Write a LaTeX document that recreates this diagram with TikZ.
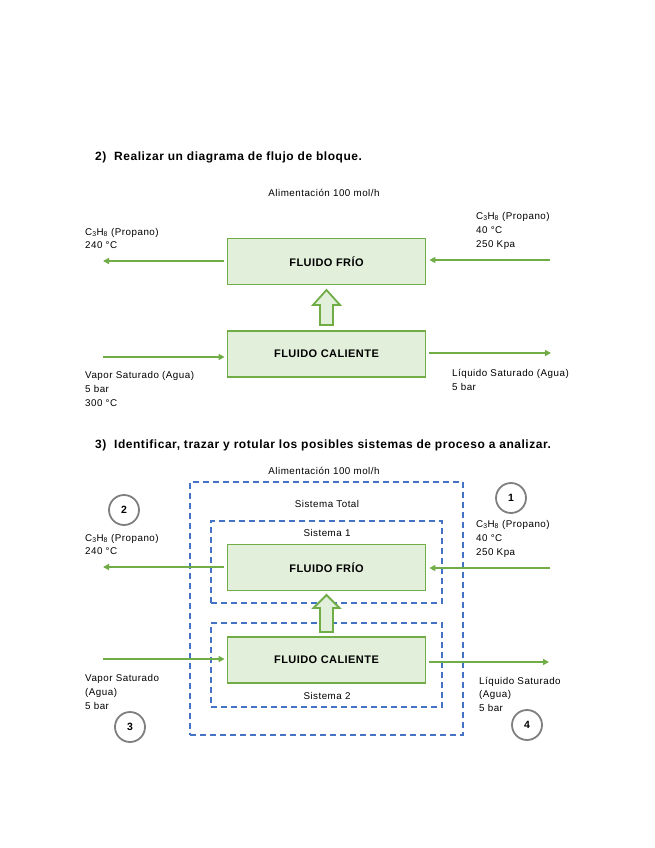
\documentclass[tikz,border=0pt]{standalone}
\usepackage{fontspec}
\setmainfont{Liberation Sans}
\usetikzlibrary{arrows.meta}
\definecolor{gline}{HTML}{70AD47}
\definecolor{gfill}{HTML}{E2EFDA}
\definecolor{bline}{HTML}{4472C4}
\definecolor{cgray}{HTML}{7F7F7F}
\begin{document}
\begin{tikzpicture}[x=1pt,y=-1pt,
  lbl/.style={anchor=base west,inner sep=0pt,font=\fontsize{9.8}{11}\selectfont\addfontfeature{LetterSpace=5}},
  lblc/.style={anchor=base,inner sep=0pt,font=\fontsize{9.8}{11}\selectfont\addfontfeature{LetterSpace=5}},
  head/.style={anchor=base west,inner sep=0pt,font=\fontsize{12}{13}\selectfont\bfseries\addfontfeature{LetterSpace=4.5}},
  block/.style={draw=gline,fill=gfill,line width=1.8pt,minimum width=198pt,minimum height=46pt,font=\fontsize{11}{12}\selectfont\bfseries\addfontfeature{LetterSpace=4},inner sep=0pt},
  flow/.style={draw=gline,line width=1.8pt,-{Triangle[length=6pt,width=6pt]}},
  sysbox/.style={draw=bline,line width=1.8pt,dash pattern=on 6pt off 4pt},
  bigarrow/.style={draw=gline,fill=gfill,line width=1.8pt,line join=miter},
  num/.style={circle,draw=cgray,line width=1.8pt,minimum size=30pt,inner sep=0pt,font=\fontsize{10.5}{12}\selectfont\bfseries}]
\useasboundingbox (0,0) rectangle (655,848);
\fill[white] (0,0) rectangle (655,848);
\newcommand{\cth}{C\textsubscript{3}H\textsubscript{8} (Propano)}

% ---------- Section 2 ----------
\node[head] (h2) at (95,160) {2)\ \ Realizar un diagrama de flujo de bloque.};
\node[lblc] (al2) at (324,196) {Alimentación 100 mol/h};
\node[block] (ff2) at (326.5,261.5) {FLUIDO FRÍO};
\node[block] (fc2) at (326.5,354) {FLUIDO CALIENTE};
\coordinate (ffL2) at (103,261);
\coordinate (ffR2) at (550,260);
\coordinate (fcL2) at (103,357);
\coordinate (fcR2) at (551,353);
\draw[flow] (ff2.west|-ffL2) ++(-3,0) -- (ffL2);
\draw[flow] (ffR2) -- ([xshift=3pt]ff2.east|-ffR2);
\draw[flow] (fcL2) -- ([xshift=-2pt]fc2.west|-fcL2);
\draw[flow] ([xshift=3pt]fc2.east|-fcR2) -- (fcR2);
\draw[bigarrow] (320,325) -- (320,305) -- (313,305) -- (326.5,290) -- (340,305) -- (333,305) -- (333,325) -- cycle;
\node[lbl] (l2a) at (85,235) {\cth};
\node[lbl] (l2b) at (85,248) {240 °C};
\node[lbl] (r2a) at (476,219) {\cth};
\node[lbl] (r2b) at (476,233) {40 °C};
\node[lbl] (r2c) at (476,247) {250 Kpa};
\node[lbl] (v2a) at (85,378) {Vapor Saturado (Agua)};
\node[lbl] (v2b) at (85,392) {5 bar};
\node[lbl] (v2c) at (85,406) {300 °C};
\node[lbl] (q2a) at (452,376) {Líquido Saturado (Agua)};
\node[lbl] (q2b) at (452,390) {5 bar};

% ---------- Section 3 ----------
\node[head] (h3) at (95,448) {3)\ \ Identificar, trazar y rotular los posibles sistemas de proceso a analizar.};
\node[lblc] (al3) at (324,474) {Alimentación 100 mol/h};
\node[sysbox,minimum width=273pt,minimum height=253pt,inner sep=0pt] (st) at (326.5,608.5) {};
\node[sysbox,minimum width=231pt,minimum height=82pt,inner sep=0pt] (s1) at (326.5,562) {};
\node[sysbox,minimum width=231pt,minimum height=84pt,inner sep=0pt] (s2) at (326.5,665) {};
\node[lblc] (stl) at (327,507) {Sistema Total};
\node[lblc] (s1l) at (327,536) {Sistema 1};
\node[lblc] (s2l) at (327,699) {Sistema 2};
\node[block] (ff3) at (326.5,567.5) {FLUIDO FRÍO};
\node[block] (fc3) at (326.5,660) {FLUIDO CALIENTE};
\coordinate (ffL3) at (103,567);
\coordinate (ffR3) at (550,568);
\coordinate (fcL3) at (103,659);
\coordinate (fcR3) at (549,662);
\draw[flow] (ff3.west|-ffL3) ++(-3,0) -- (ffL3);
\draw[flow] (ffR3) -- ([xshift=3pt]ff3.east|-ffR3);
\draw[flow] (fcL3) -- ([xshift=-2pt]fc3.west|-fcL3);
\draw[flow] ([xshift=3pt]fc3.east|-fcR3) -- (fcR3);
\draw[bigarrow] (320,632) -- (320,608) -- (313.5,608) -- (326.5,595) -- (339.5,608) -- (333,608) -- (333,632) -- cycle;
\node[num] (n1) at (511,498) {1};
\node[num] (n2) at (124,510) {2};
\node[num] (n3) at (130,727) {3};
\node[num] (n4) at (527,725) {4};
\node[lbl] (l3a) at (85,541) {\cth};
\node[lbl] (l3b) at (85,554) {240 °C};
\node[lbl] (r3a) at (476,527) {\cth};
\node[lbl] (r3b) at (476,541) {40 °C};
\node[lbl] (r3c) at (476,555) {250 Kpa};
\node[lbl] (v3a) at (85,681) {Vapor Saturado};
\node[lbl] (v3b) at (85,695) {(Agua)};
\node[lbl] (v3c) at (85,709) {5 bar};
\node[lbl] (q3a) at (479,684) {Líquido Saturado};
\node[lbl] (q3b) at (479,697) {(Agua)};
\node[lbl] (q3c) at (479,711) {5 bar};
\end{tikzpicture}
\end{document}
